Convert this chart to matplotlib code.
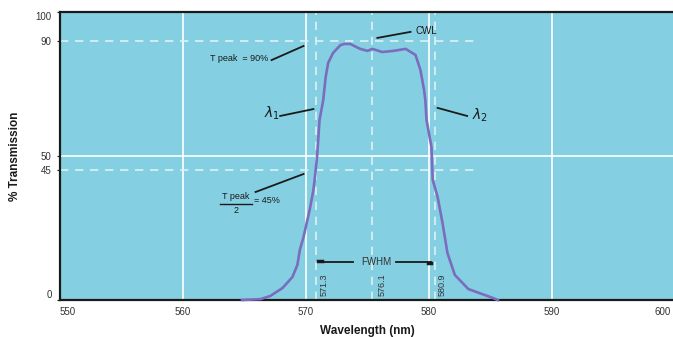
import matplotlib.pyplot as plt
import matplotlib.transforms as mtransforms

plt.rcParams['font.family'] = ['Liberation Sans', 'DejaVu Sans']

# transmission curve
wavelength = [564.8, 566.3, 567.1, 568.1, 568.9, 569.3, 569.5, 569.8, 570.3, 570.6,
              570.7, 570.9, 571.1, 571.4, 571.6, 571.8, 572.2, 572.8, 573.1, 573.6,
              574.4, 575.0, 575.4, 576.2, 577.1, 578.1, 578.9, 579.3, 579.6, 579.7,
              579.8, 580.2, 580.3, 580.7, 581.1, 581.5, 582.1, 583.2, 584.1, 585.2, 585.6]
transmission = [0.0, 0.3, 1.4, 4.2, 8.0, 12.2, 17.4, 21.9, 31.3, 38.2,
                41.7, 49.7, 62.5, 69.4, 77.4, 82.3, 85.8, 88.5, 88.9, 88.9,
                87.2, 86.5, 87.2, 86.1, 86.5, 87.2, 85.1, 79.9, 72.9, 69.4,
                62.5, 53.1, 41.7, 35.8, 26.7, 16.3, 8.7, 3.8, 2.4, 0.7, 0.0]

x_ticks = [550, 560, 570, 580, 590, 600]
y_ticks = [0, 45, 50, 90, 100]
marker_x = [570.8, 575.4, 580.5]          # lambda1, CWL, lambda2 (as drawn)
marker_labels = ['571.3', '576.1', '580.9']
level_y = [90, 45]                        # T peak, T peak / 2
level_end = 584.1

bg = '#84d0e2'
line_col = '#7b6cbd'
ink = '#1a1a1a'

fig = plt.figure(figsize=(6.73, 3.37), dpi=100)
ax = fig.add_axes([60 / 673, 37 / 337, 615 / 673, 288 / 337])
ax.set_facecolor(bg)
ax.set_xlim(550, 600)
ax.set_ylim(0, 100)

# solid grid
for gx in [560, 570, 580, 590]:
    ax.axvline(gx, color='white', lw=1.2, zorder=1)
ax.axhline(50, color='white', lw=1.2, zorder=1)

# dashed guide lines
for mx in marker_x:
    ax.axvline(mx, color='#dff1f6', lw=1.2, ls=(0, (5, 4)), zorder=1)
for ly in level_y:
    ax.plot([550, level_end], [ly, ly], color='#dff1f6', lw=1.2, ls=(0, (5, 4)), zorder=1)

ax.plot(wavelength, transmission, color=line_col, lw=1.9, zorder=3, clip_on=False)

# spines / ticks
for s in ['left', 'bottom', 'top']:
    ax.spines[s].set_color(ink)
    ax.spines[s].set_linewidth(1.6)
ax.spines['right'].set_visible(False)
ax.set_xticks(x_ticks)
ax.set_yticks(y_ticks)
ax.set_xticklabels([str(t) for t in x_ticks])
ax.set_yticklabels([str(t) for t in y_ticks])
ax.tick_params(axis='x', length=0, pad=5, labelsize=7, labelcolor='#333333')
ax.tick_params(axis='y', length=2, pad=4, labelsize=7, labelcolor='#333333', color=ink)
xl = ax.get_xticklabels()
xl[0].set_ha('left')
xl[-1].set_ha('right')
xl[-1].set_transform(xl[-1].get_transform() +
                     mtransforms.ScaledTranslation(-4 / 100, 0, fig.dpi_scale_trans))
yl = ax.get_yticklabels()
yl[0].set_va('bottom')
yl[-1].set_va('top')

ax.set_xlabel('Wavelength (nm)', fontsize=8.5, fontweight='bold', color=ink, va='center')
ax.xaxis.set_label_coords(0.5, -0.108)
ax.set_ylabel('% Transmission', fontsize=8.5, fontweight='bold', color=ink, va='center')
ax.yaxis.set_label_coords(-0.073, 0.5)

# annotations
def leader(x0, y0, x1, y1):
    ax.plot([x0, x1], [y0, y1], color=ink, lw=1.3, zorder=4)

ax.text(566.9, 84.0, 'T peak  = 90%', fontsize=6.5, ha='right', va='center', color=ink)
leader(567.2, 83.3, 569.8, 88.2)

ax.text(567.2, 64.9, r'$\lambda_1$', fontsize=10, ha='center', va='center', color=ink)
leader(567.9, 63.9, 570.6, 66.3)

ax.text(578.9, 93.4, 'CWL', fontsize=7, ha='left', va='center', color=ink)
leader(575.8, 91.0, 578.5, 93.1)

ax.text(583.5, 64.2, r'$\lambda_2$', fontsize=10, ha='left', va='center', color=ink)
leader(580.7, 66.7, 583.1, 63.9)

ax.text(564.3, 35.8, 'T peak', fontsize=6.5, ha='center', va='center', color=ink)
ax.plot([563.0, 565.6], [33.3, 33.3], color=ink, lw=1.0)
ax.text(564.3, 31.0, '2', fontsize=6.5, ha='center', va='center', color=ink)
ax.text(565.8, 34.4, '= 45%', fontsize=6.5, ha='left', va='center', color=ink)
leader(565.9, 37.5, 569.8, 43.75)

ax.plot([571.0, 573.8], [13.2, 13.2], color=ink, lw=1.3)
ax.plot([571.0, 571.3], [13.7, 13.7], color=ink, lw=2.5)
ax.text(575.7, 13.2, 'FWHM', fontsize=7, ha='center', va='center', color='#333333')
ax.plot([577.3, 580.2], [13.2, 13.2], color=ink, lw=1.3)
ax.plot([579.9, 580.2], [12.8, 12.8], color=ink, lw=2.5)

for mx, lab in zip([571.5, 576.2, 581.1], marker_labels):
    ax.text(mx, 1.4, lab, fontsize=6.5, rotation=90, ha='center', va='bottom', color='#333333')

fig.savefig('out.png', dpi=100)
